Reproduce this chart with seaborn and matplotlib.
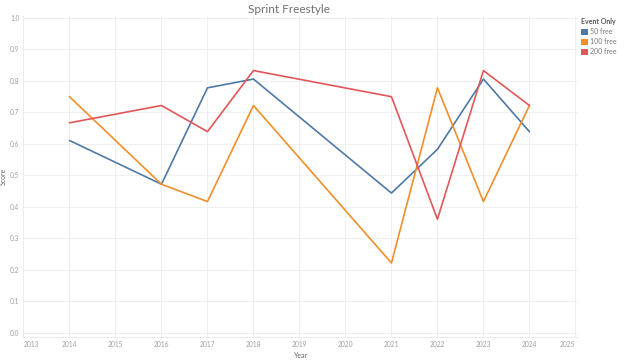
import matplotlib
matplotlib.use("Agg")
import matplotlib.pyplot as plt
import seaborn as sns
import pandas as pd
from matplotlib.patches import Patch


# -----------------------------
# Data
# -----------------------------
years = [2014, 2016, 2017, 2018, 2021, 2022, 2023, 2024]
events = ["50 free", "100 free", "200 free"]

score_50 = [0.611, 0.472, 0.778, 0.806, 0.444, 0.583, 0.806, 0.639]
score_100 = [0.750, 0.472, 0.417, 0.722, 0.222, 0.778, 0.417, 0.722]
score_200 = [0.667, 0.722, 0.639, 0.833, 0.750, 0.361, 0.833, 0.722]

x_ticks = list(range(2013, 2026))
y_ticks = [0.0, 0.1, 0.2, 0.3, 0.4, 0.5, 0.6, 0.7, 0.8, 0.9, 1.0]

colors = ["#4E79A7", "#F28E2B", "#E15759"]

df = pd.DataFrame({
    "Year": years * 3,
    "Score": score_50 + score_100 + score_200,
    "Event Only": [events[0]] * len(years) + [events[1]] * len(years) + [events[2]] * len(years),
})


# -----------------------------
# Plot
# -----------------------------
sns.set_style("white")
plt.rcParams["font.family"] = ["Lato", "DejaVu Sans"]

fig = plt.figure(figsize=(6.4, 3.61), dpi=100)
ax = fig.add_axes([0.0367, 0.0665, 0.866, 0.889])

sns.lineplot(data=df, x="Year", y="Score", hue="Event Only",
             palette=colors, linewidth=1.2, legend=False, ax=ax)

ax.set_xlim(2013, 2025.05)
ax.set_ylim(-0.013, 1.006)
ax.set_xticks(x_ticks)
ax.set_yticks(y_ticks)
ax.set_xticklabels([str(y) for y in x_ticks])
ax.set_yticklabels([f"{v:.1f}" for v in y_ticks])
ax.tick_params(axis="both", labelsize=4.8, colors="#a0a0a0", length=0, pad=3)

# edge labels sit inside the axis like the original
xl = ax.get_xticklabels()
xl[0].set_ha("left")
xl[-1].set_ha("right")

ax.grid(True, color="#f0f0f0", linewidth=0.7)
for side in ["top", "right"]:
    ax.spines[side].set_visible(False)
for side in ["left", "bottom"]:
    ax.spines[side].set_color("#ebebeb")
    ax.spines[side].set_linewidth(0.7)

ax.set_xlabel("Year", fontsize=5, color="#666666", labelpad=3)
ax.set_ylabel("Score", fontsize=5, color="#666666")
ax.yaxis.set_label_coords(-0.03, 0.5)

fig.text(0.452, 0.975, "Sprint Freestyle", ha="center", va="center",
         fontsize=8.5, color="#707070")

# legend
handles = [Patch(facecolor=c, edgecolor="none") for c in colors]
leg = fig.legend(handles, events, title="Event Only", loc="upper left",
                 bbox_to_anchor=(0.908, 0.95), frameon=False,
                 fontsize=5, title_fontsize=5, handlelength=1.0,
                 handleheight=1.0, handletextpad=0.3, labelspacing=0.45,
                 borderaxespad=0, borderpad=0)
leg._legend_box.align = "left"
leg.get_title().set_color("#555555")
leg.get_title().set_fontweight("bold")
for t in leg.get_texts():
    t.set_color("#777777")

plt.savefig("out.png", dpi=100)
